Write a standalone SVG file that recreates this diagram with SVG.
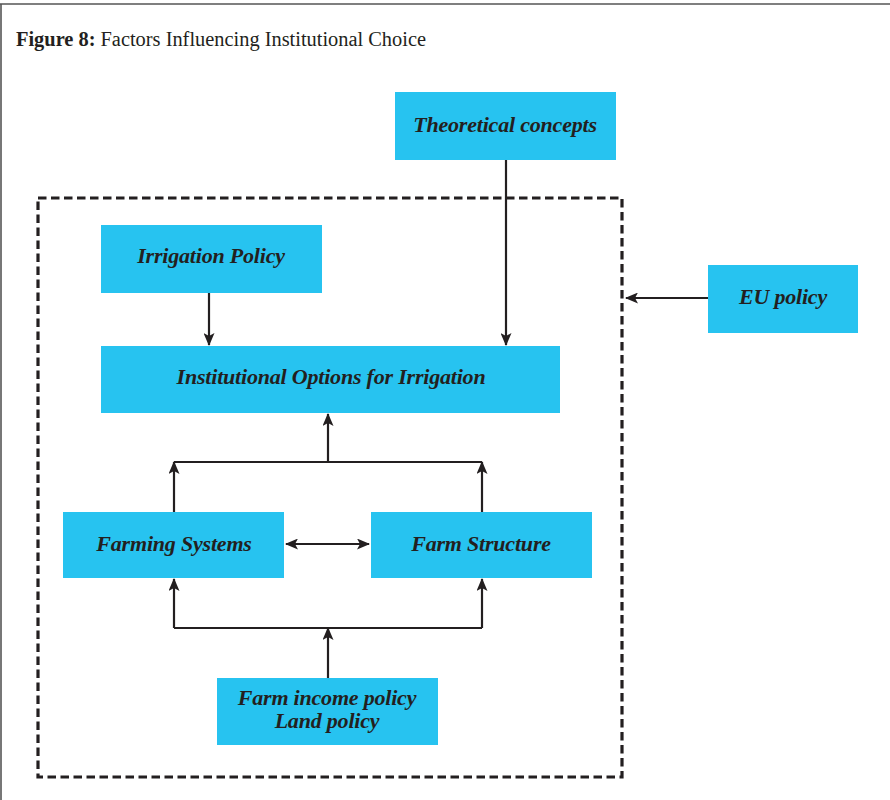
<svg xmlns="http://www.w3.org/2000/svg" width="890" height="800" viewBox="0 0 890 800">
<defs>
<style>
.box{fill:#27c3f0;}
.lbl{font-family:"Liberation Serif","Times New Roman",serif;font-weight:bold;font-style:italic;font-size:22px;fill:#231f20;text-anchor:middle;letter-spacing:-0.2px;}
.ln{stroke:#231f20;stroke-width:2.2;fill:none;}
.title{font-family:"Liberation Serif","Times New Roman",serif;font-size:20px;fill:#231f20;}
</style>
<marker id="ah" viewBox="0 0 13 11" refX="12" refY="5.5" markerWidth="13" markerHeight="11" markerUnits="userSpaceOnUse" orient="auto-start-reverse">
<path d="M0,0 L13,5.5 L0,11 L3,5.5 Z" fill="#231f20"/>
</marker>
</defs>
<rect width="890" height="800" fill="#ffffff"/>
<g id="frame">
<line x1="0" y1="4" x2="890" y2="4" stroke="#555" stroke-width="1.6"/>
<line x1="1" y1="4" x2="1" y2="800" stroke="#555" stroke-width="1.6"/>
<text class="title" x="16" y="46" textLength="410" lengthAdjust="spacingAndGlyphs"><tspan font-weight="bold">Figure 8:</tspan> Factors Influencing Institutional Choice</text>
</g>
<g id="boundary">
<rect x="38" y="198" width="584" height="579" fill="none" stroke="#231f20" stroke-width="3.2" stroke-dasharray="8.5 4.5"/>
</g>
<g id="connectors">
<line class="ln" x1="506" y1="160" x2="506" y2="345" marker-end="url(#ah)"/>
<line class="ln" x1="209" y1="293" x2="209" y2="345" marker-end="url(#ah)"/>
<line class="ln" x1="708" y1="298" x2="626" y2="298" marker-end="url(#ah)"/>
<line class="ln" x1="328" y1="462" x2="328" y2="414" marker-end="url(#ah)"/>
<polyline class="ln" points="174,462 482,462"/>
<line class="ln" x1="174" y1="512" x2="174" y2="462" marker-end="url(#ah)"/>
<line class="ln" x1="482" y1="512" x2="482" y2="462" marker-end="url(#ah)"/>
<line class="ln" x1="286" y1="544" x2="369" y2="544" marker-start="url(#ah)" marker-end="url(#ah)"/>
<polyline class="ln" points="174,628 482,628"/>
<line class="ln" x1="174" y1="628" x2="174" y2="579" marker-end="url(#ah)"/>
<line class="ln" x1="482" y1="628" x2="482" y2="579" marker-end="url(#ah)"/>
<line class="ln" x1="328" y1="678" x2="328" y2="628" marker-end="url(#ah)"/>
</g>
<g id="theoretical">
<rect class="box" x="395" y="92" width="221" height="68"/>
<text class="lbl" x="505" y="132">Theoretical concepts</text>
</g>
<g id="irrigation">
<rect class="box" x="101" y="225" width="221" height="68"/>
<text class="lbl" x="211" y="263">Irrigation Policy</text>
</g>
<g id="eu">
<rect class="box" x="708" y="265" width="150" height="68"/>
<text class="lbl" x="783" y="304">EU policy</text>
</g>
<g id="options">
<rect class="box" x="101" y="346" width="459" height="67"/>
<text class="lbl" x="331" y="384">Institutional Options for Irrigation</text>
</g>
<g id="farming">
<rect class="box" x="63" y="512" width="221" height="66"/>
<text class="lbl" x="174" y="551">Farming Systems</text>
</g>
<g id="structure">
<rect class="box" x="371" y="512" width="221" height="66"/>
<text class="lbl" x="481" y="551">Farm Structure</text>
</g>
<g id="income">
<rect class="box" x="217" y="678" width="221" height="67"/>
<text class="lbl" x="327" y="705">Farm income policy</text>
<text class="lbl" x="327" y="728">Land policy</text>
</g>
</svg>
